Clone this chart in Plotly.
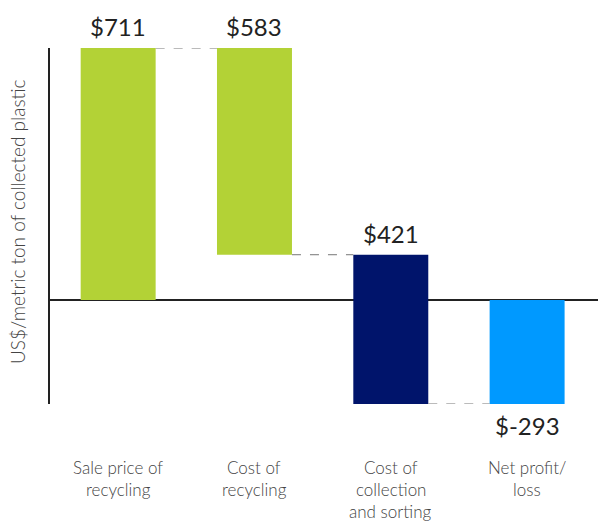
import plotly.graph_objects as go

# Waterfall steps (US$ per metric ton of collected plastic)
categories = [["Sale price of", "recycling"], ["Cost of", "recycling"],
              ["Cost of", "collection", "and sorting"], ["Net profit/", "loss"]]
values = [711, -583, -421, -293]   # signed change for each step
labels = ["$711", "$583", "$421", "$-293"]
colors = ["#B3D236", "#B3D236", "#00146B", "#0099FF"]
y_title = "US$/metric ton of collected plastic"

# Build bar bases/heights from the running total
bases, heights = [], []
running = 0
for i, v in enumerate(values):
    if i == len(values) - 1:
        bases.append(0)
        heights.append(v)
    else:
        bases.append(running)
        heights.append(v)
        running += v

xpos = list(range(len(categories)))
BAR_W = 0.55
FONT = "Lato, 'Open Sans', sans-serif"

# plot area in pixels
W, H = 598, 523
PLOT_L, PLOT_T, PLOT_R, PLOT_B = 50, 48, 0, 119
PLOT_W = W - PLOT_L - PLOT_R
PLOT_H = H - PLOT_T - PLOT_B


def paper_x(px):
    return (px - PLOT_L) / PLOT_W


def paper_y(py):
    return 1 - (py - PLOT_T) / PLOT_H


fig = go.Figure()
fig.add_trace(go.Bar(x=xpos, y=heights, base=bases, width=BAR_W,
                     marker=dict(color=colors, line=dict(width=0)),
                     hoverinfo="skip"))

# dashed connectors between consecutive bars
shapes = []
for i in range(len(values) - 1):
    level = bases[i] + heights[i]
    shapes.append(dict(type="line", xref="x", yref="y",
                       x0=xpos[i] + BAR_W / 2, x1=xpos[i + 1] - BAR_W / 2,
                       y0=level, y1=level,
                       line=dict(color="#777777", width=1, dash="dash")))

annotations = []
for i, lab in enumerate(labels):
    top = max(bases[i], bases[i] + heights[i])
    bottom = min(bases[i], bases[i] + heights[i])
    if i == len(values) - 1:
        annotations.append(dict(x=xpos[i], y=bottom, text=lab, showarrow=False,
                                yanchor="top", yshift=-5,
                                font=dict(size=24, color="#222222", family=FONT)))
    else:
        annotations.append(dict(x=xpos[i], y=top, text=lab, showarrow=False,
                                yanchor="bottom", yshift=5,
                                font=dict(size=24, color="#222222", family=FONT)))

# category labels under the plot, one annotation per line
LINE_Y0, LINE_GAP = 467, 22
for i, lines in enumerate(categories):
    for k, line in enumerate(lines):
        annotations.append(dict(x=xpos[i], y=paper_y(LINE_Y0 + k * LINE_GAP),
                                xref="x", yref="paper", text=line,
                                showarrow=False, yanchor="middle", align="center",
                                font=dict(size=17, color="#444444", family=FONT, weight=300)))

# vertical axis title
annotations.append(dict(x=paper_x(17), y=paper_y(222), xref="paper", yref="paper",
                        text=y_title, showarrow=False, textangle=-90,
                        xanchor="center", yanchor="middle",
                        font=dict(size=19, color="#444444", family=FONT, weight=300)))

fig.update_layout(
    width=W, height=H,
    margin=dict(l=PLOT_L, r=PLOT_R, t=PLOT_T, b=PLOT_B),
    paper_bgcolor="white", plot_bgcolor="white",
    showlegend=False,
    shapes=shapes,
    annotations=annotations,
    xaxis=dict(range=[-0.5, 3.52], showticklabels=False, showgrid=False,
               zeroline=False, showline=False, ticks=""),
    yaxis=dict(range=[-293, 711], showticklabels=False, showgrid=False,
               zeroline=True, zerolinecolor="#222222", zerolinewidth=1.5,
               showline=True, linecolor="#222222", linewidth=1.5, ticks=""),
)

fig.write_html("out.html")
